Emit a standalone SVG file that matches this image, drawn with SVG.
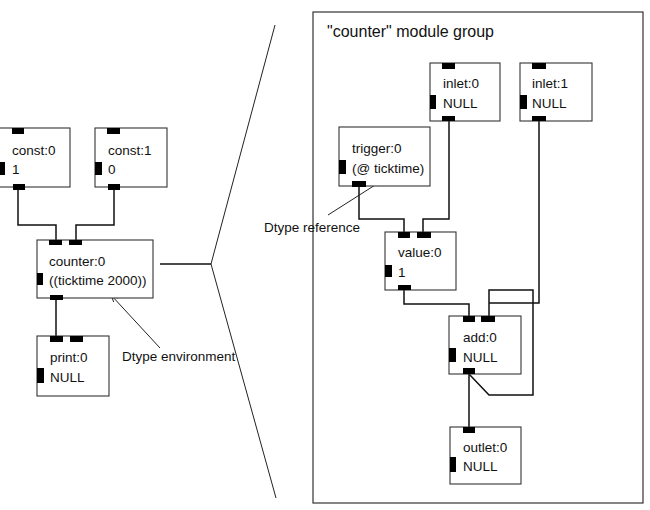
<svg xmlns="http://www.w3.org/2000/svg" width="650" height="510" viewBox="0 0 650 510">
<defs>
<marker id="arr" viewBox="0 0 10 10" refX="10" refY="5" markerWidth="9" markerHeight="7" orient="auto" markerUnits="userSpaceOnUse">
<path d="M0,1 L10,5 L0,9" fill="none" stroke="#222" stroke-width="1.3"/>
</marker>
<style>
.box{fill:#fff;stroke:#333;stroke-width:1.1}
.port{fill:#000}
text{font-family:"Liberation Sans",Arial,sans-serif;font-size:13.5px;fill:#111}
.title{font-size:16px}
.wire{fill:none;stroke:#111;stroke-width:1.5}
.thin{fill:none;stroke:#222;stroke-width:1}
.frame{fill:none;stroke:#333;stroke-width:1.2}
</style>
</defs>
<rect width="650" height="510" fill="#fff"/>

<g id="connectors">
<polyline class="wire" points="18,190 18,225 56,225 56,240"/>
<polyline class="wire" points="114,190 114,225 76,225 76,240"/>
<line class="wire" x1="56" y1="300" x2="56" y2="336"/>
<polyline class="wire" points="160,264 211,264"/>
<polyline class="thin" points="275,25 211,264 276,498"/>
<polyline class="wire" points="359,187 359,219 404,219 404,232"/>
<polyline class="wire" points="449,121 449,219 423,219 423,232"/>
<polyline class="wire" points="404,290 404,304 469,304 469,316"/>
<polyline class="wire" points="539,121 539,303 489,303"/>
<polyline class="wire" points="489,316 489,290 533,290 533,395 489,395 469,374"/>
<line class="wire" x1="469" y1="374" x2="469" y2="427"/>
<line class="thin" x1="160" y1="348" x2="111" y2="295" marker-end="url(#arr)"/>
<line class="thin" x1="328" y1="215" x2="383" y2="180" marker-end="url(#arr)"/>
</g>

<g id="env-label"><text x="122" y="361">Dtype environment</text></g>

<g id="const0">
<rect class="box" x="-1" y="128" width="71" height="59"/>
<rect class="port" x="12" y="128" width="12" height="6"/>
<rect class="port" x="-1" y="162" width="6" height="13"/>
<rect class="port" x="13" y="184" width="12" height="6"/>
<text x="12" y="155">const:0</text>
<text x="12" y="174">1</text>
</g>

<g id="const1">
<rect class="box" x="95" y="128" width="72" height="59"/>
<rect class="port" x="107" y="128" width="13" height="6"/>
<rect class="port" x="95" y="162" width="7" height="13"/>
<rect class="port" x="108" y="184" width="12" height="6"/>
<text x="108" y="155">const:1</text>
<text x="108" y="174">0</text>
</g>

<g id="counter0">
<rect class="box" x="37" y="240" width="116" height="58"/>
<rect class="port" x="49" y="240" width="13" height="5"/>
<rect class="port" x="69" y="240" width="13" height="5"/>
<rect class="port" x="37" y="273" width="6" height="12"/>
<rect class="port" x="50" y="295" width="13" height="5"/>
<text x="49" y="266">counter:0</text>
<text x="49" y="285">((ticktime 2000))</text>
</g>

<g id="print0">
<rect class="box" x="37" y="336" width="72" height="60"/>
<rect class="port" x="50" y="336" width="13" height="6"/>
<rect class="port" x="70" y="336" width="13" height="6"/>
<rect class="port" x="37" y="368" width="7" height="15"/>
<text x="50" y="362">print:0</text>
<text x="50" y="382">NULL</text>
</g>

<g id="group-frame">
<rect class="frame" x="313" y="12" width="330" height="491"/>
<text class="title" x="327" y="37">"counter" module group</text>
</g>

<g id="ref-label"><text x="264" y="232">Dtype reference</text></g>

<g id="inlet0">
<rect class="box" x="430" y="63" width="70" height="58"/>
<rect class="port" x="442" y="63" width="13" height="6"/>
<rect class="port" x="430" y="95" width="6" height="14"/>
<rect class="port" x="442" y="116" width="13" height="5"/>
<text x="443" y="88">inlet:0</text>
<text x="443" y="108">NULL</text>
</g>

<g id="inlet1">
<rect class="box" x="520" y="63" width="72" height="58"/>
<rect class="port" x="532" y="63" width="14" height="6"/>
<rect class="port" x="520" y="95" width="7" height="14"/>
<rect class="port" x="532" y="116" width="14" height="5"/>
<text x="532" y="88">inlet:1</text>
<text x="532" y="108">NULL</text>
</g>

<g id="trigger0">
<rect class="box" x="339" y="127" width="91" height="59"/>
<rect class="port" x="339" y="160" width="7" height="14"/>
<rect class="port" x="352" y="181" width="14" height="6"/>
<text x="352" y="153">trigger:0</text>
<text x="352" y="173">(@ ticktime)</text>
</g>

<g id="value0">
<rect class="box" x="385" y="232" width="71" height="58"/>
<rect class="port" x="398" y="232" width="12" height="6"/>
<rect class="port" x="417" y="232" width="14" height="6"/>
<rect class="port" x="385" y="265" width="7" height="12"/>
<rect class="port" x="398" y="285" width="13" height="5"/>
<text x="398" y="257">value:0</text>
<text x="398" y="277">1</text>
</g>

<g id="add0">
<rect class="box" x="449" y="316" width="72" height="58"/>
<rect class="port" x="463" y="316" width="12" height="6"/>
<rect class="port" x="481" y="316" width="14" height="6"/>
<rect class="port" x="449" y="348" width="7" height="14"/>
<rect class="port" x="463" y="368" width="12" height="6"/>
<text x="463" y="342">add:0</text>
<text x="463" y="362">NULL</text>
</g>

<g id="outlet0">
<rect class="box" x="450" y="427" width="71" height="57"/>
<rect class="port" x="463" y="427" width="12" height="6"/>
<rect class="port" x="450" y="457" width="6" height="15"/>
<text x="463" y="452">outlet:0</text>
<text x="463" y="471">NULL</text>
</g>
</svg>
